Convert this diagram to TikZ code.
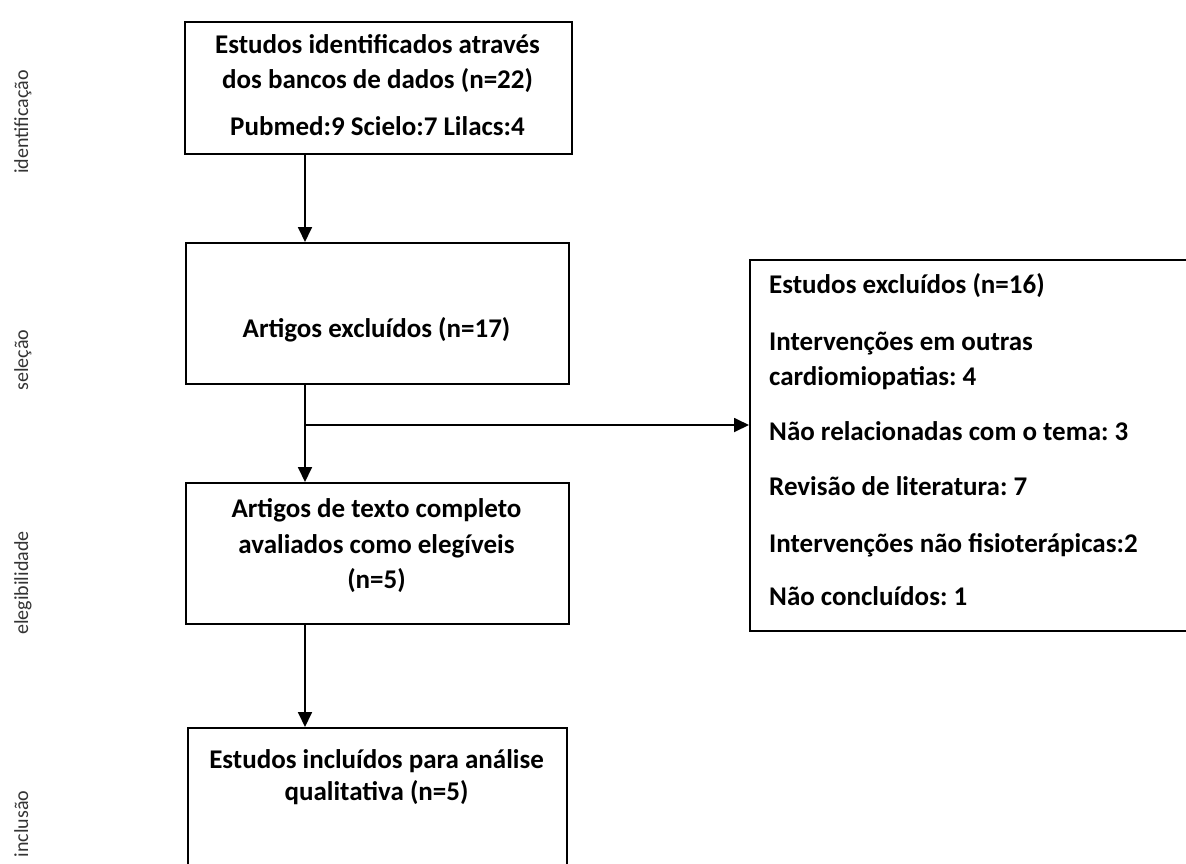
\documentclass[tikz,border=0pt]{standalone}
\usepackage{fontspec}
\setmainfont{Carlito}
\usetikzlibrary{arrows.meta}
\frenchspacing
\begin{document}
\begin{tikzpicture}[x=1pt,y=-1pt,
  box/.style={draw=black, line width=1.6pt, inner sep=0pt, anchor=north west},
  txt/.style={font=\bfseries\fontsize{27}{33}\selectfont, anchor=base, inner sep=0pt},
  ltxt/.style={txt, anchor=base west},
  side/.style={font=\fontsize{20}{24}\selectfont, text=black!80, rotate=90, anchor=base, inner sep=0pt},
  arr/.style={line width=1.8pt, -{Triangle[length=15pt,width=14pt]}}]
\useasboundingbox (0,0) rectangle (1186,863);
\clip (0,0) rectangle (1186,863);
% side labels
\node[side] (s1) at (28,122) {identificação};
\node[side] (s2) at (28,360) {seleção};
\node[side] (s3) at (28,583) {elegibilidade};
\node[side] (s4) at (28,824) {inclusão};
% boxes
\node[box, minimum width=387pt, minimum height=132pt] (b1) at (184,21) {};
\node[box, minimum width=383pt, minimum height=141pt] (b2) at (185,242) {};
\node[box, minimum width=383pt, minimum height=141pt] (b3) at (185,482) {};
\node[box, minimum width=379pt, minimum height=150pt] (b4) at (187,727) {};
\node[box, minimum width=450pt, minimum height=371pt] (bx) at (749,259) {};
% texts
\node[txt] (t1a) at (377.5,53) {Estudos identificados através};
\node[txt] (t1b) at (377.5,88) {dos bancos de dados (n=22)};
\node[txt] (t1c) at (377.5,135) {Pubmed:9 Scielo:7 Lilacs:4};
\node[txt] (t2a) at (376.5,337) {Artigos excluídos (n=17)};
\node[txt] (t3a) at (376.5,517) {Artigos de texto completo};
\node[txt] (t3b) at (376.5,553) {avaliados como elegíveis};
\node[txt] (t3c) at (376.5,588) {(n=5)};
\node[txt] (t4a) at (376.5,768) {Estudos incluídos para análise};
\node[txt] (t4b) at (376.5,800) {qualitativa (n=5)};
\node[ltxt] (x1) at (769,293) {Estudos excluídos (n=16)};
\node[ltxt] (x2) at (769,350) {Intervenções em outras};
\node[ltxt] (x3) at (769,385) {cardiomiopatias: 4};
\node[ltxt] (x4) at (769,440) {Não relacionadas com o tema: 3};
\node[ltxt] (x5) at (769,495) {Revisão de literatura: 7};
\node[ltxt] (x6) at (769,552) {Intervenções não fisioterápicas:2};
\node[ltxt] (x7) at (769,605) {Não concluídos: 1};
% connectors
\coordinate (c) at (305,0);
\coordinate (j) at (305,425);
\draw[arr] (b1.south -| c) -- (b2.north -| c);
\draw[arr] (b2.south -| c) -- (b3.north -| c);
\draw[arr] (j) -- (bx.west |- j);
\draw[arr] (b3.south -| c) -- (b4.north -| c);
\end{tikzpicture}
\end{document}
